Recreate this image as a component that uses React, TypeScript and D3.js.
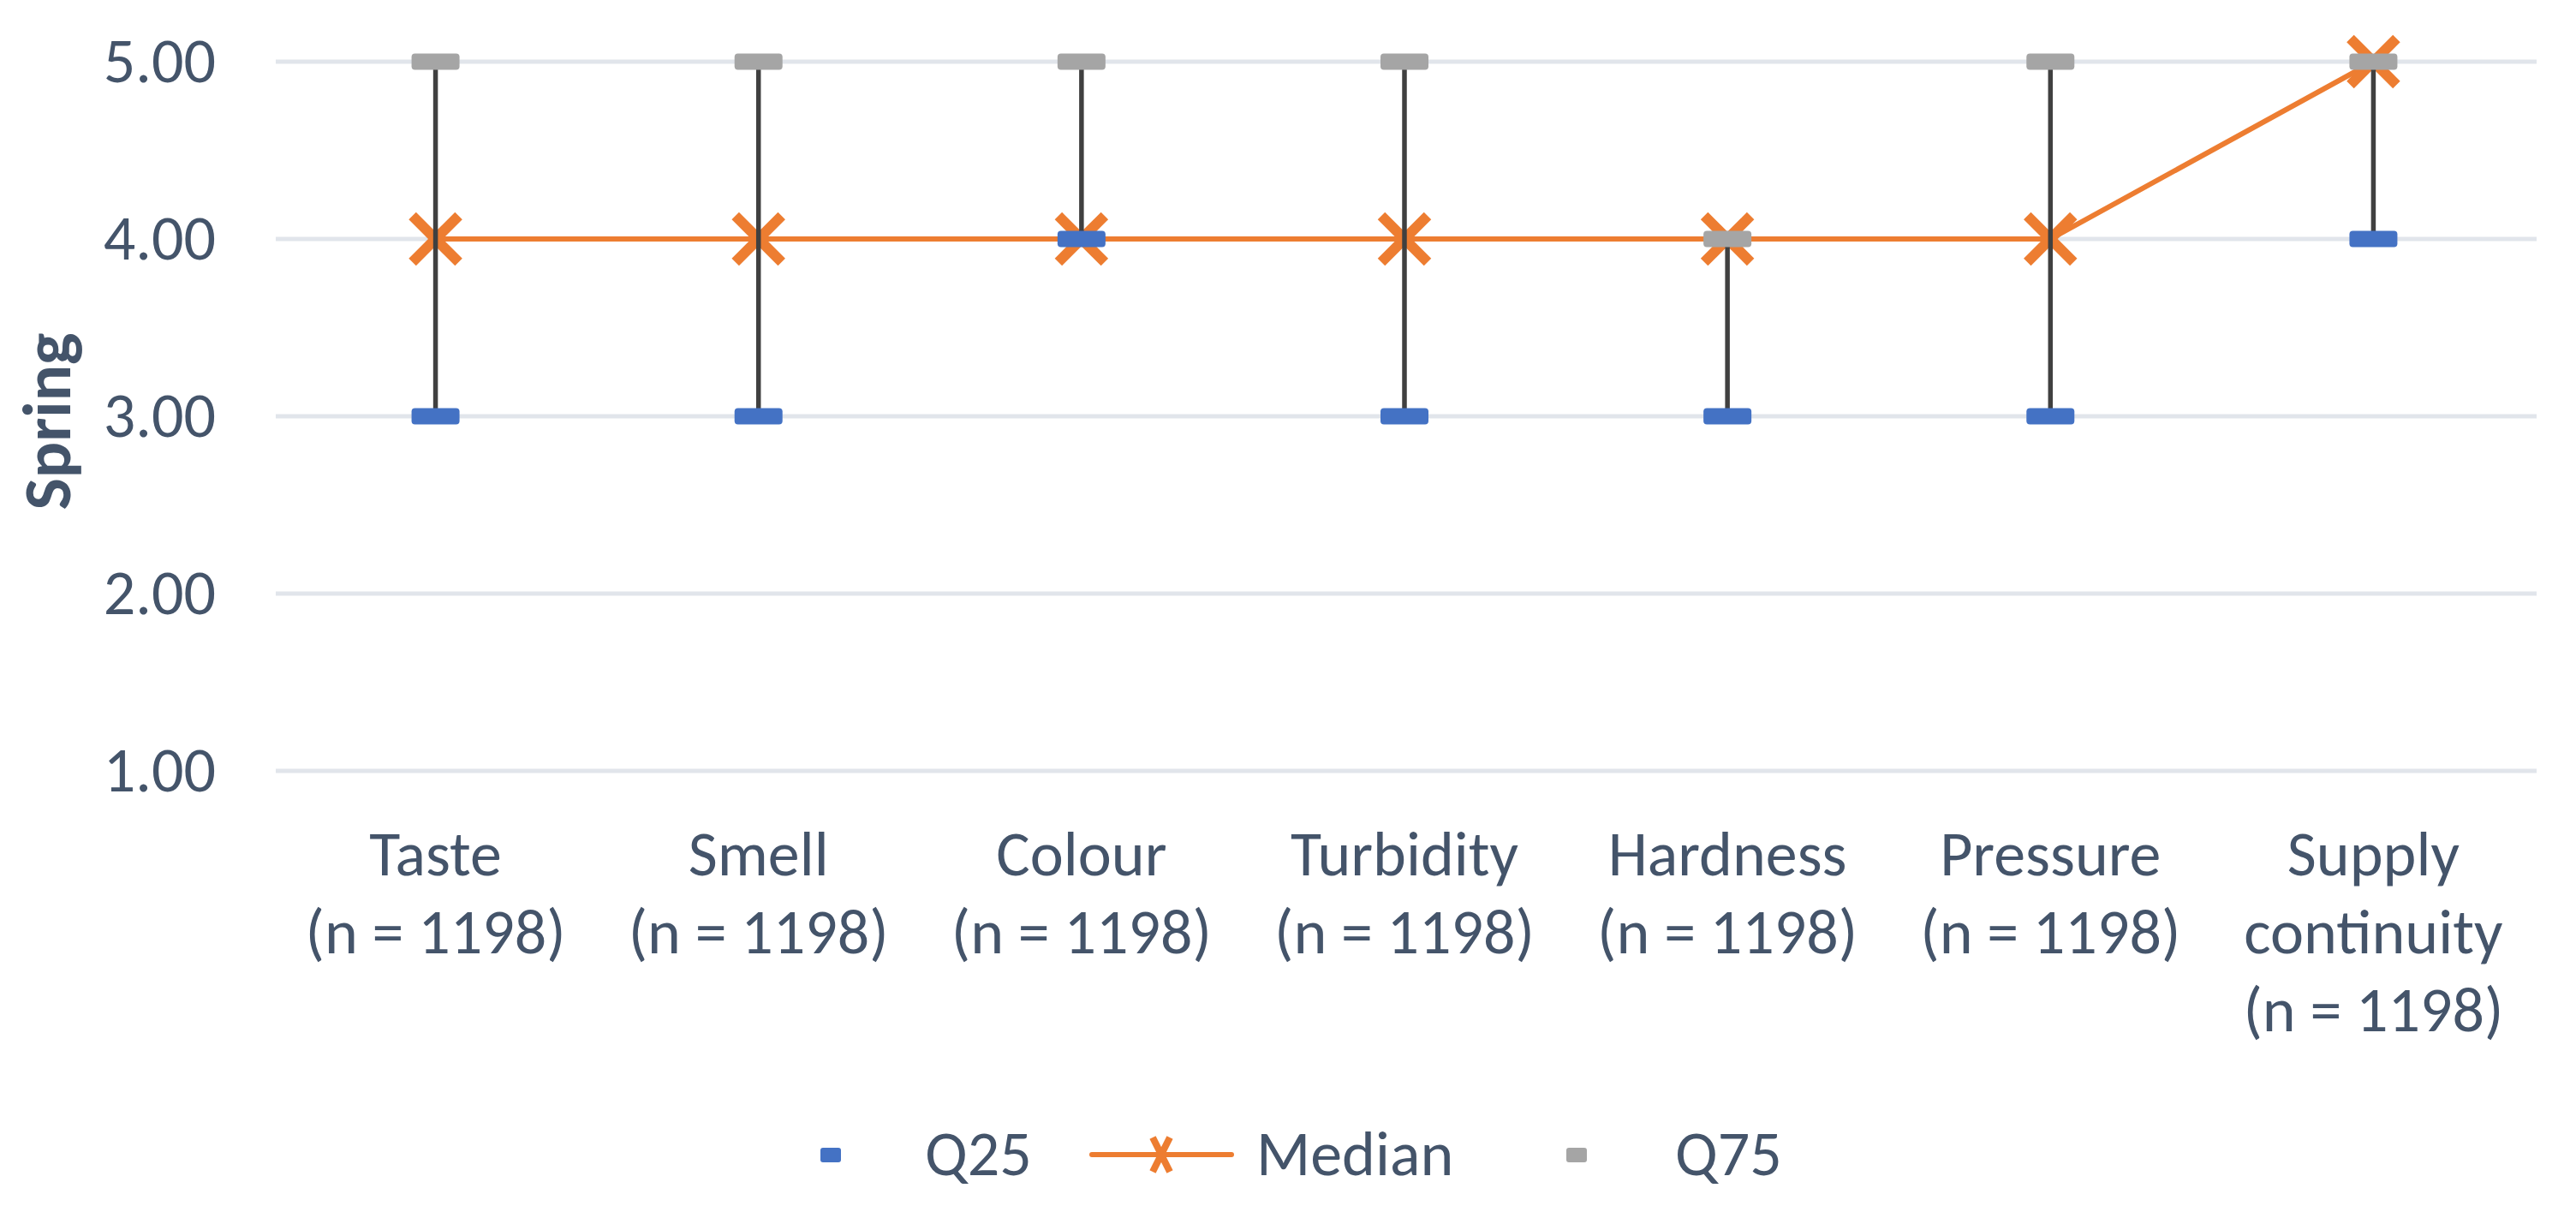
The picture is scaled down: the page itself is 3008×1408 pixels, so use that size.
import React from "react";
import * as d3 from "d3";

const categories: string[][] = [
  ["Taste", "(n = 1198)"],
  ["Smell", "(n = 1198)"],
  ["Colour", "(n = 1198)"],
  ["Turbidity", "(n = 1198)"],
  ["Hardness", "(n = 1198)"],
  ["Pressure", "(n = 1198)"],
  ["Supply", "continuity", "(n = 1198)"],
];
const q25: number[] = [3, 3, 4, 3, 3, 3, 4];
const median: number[] = [4, 4, 4, 4, 4, 4, 5];
const q75: number[] = [5, 5, 5, 5, 4, 5, 5];
const yTicks: number[] = [1, 2, 3, 4, 5];
const legendItems: string[] = ["Q25", "Median", "Q75"];

const W = 3008;
const H = 1408;
const FONT = "Carlito, Calibri, 'Open Sans', sans-serif";
const TEXT = "#44546A";
const GRID = "#E1E5EB";
const BLUE = "#4472C4";
const ORANGE = "#ED7D31";
const GRAY = "#A5A5A5";
const DARK = "#404040";

export default function App() {
  const x = d3
    .scaleBand<number>()
    .domain(d3.range(categories.length))
    .range([320, 2960]);
  const y = d3.scaleLinear().domain([1, 5]).range([900, 72]);
  const cx = (i: number) => (x(i) as number) + x.bandwidth() / 2;

  const line = d3
    .line<number>()
    .x((_, i) => cx(i))
    .y((d) => y(d));

  const dashW = 56;
  const dashH = 19;
  const xs = 27;

  const xMark = (px: number, py: number, key: string, s = xs, sy = xs, sw = 12) => (
    <g key={key}>
      <line x1={px - s} y1={py - sy} x2={px + s} y2={py + sy} stroke={ORANGE} strokeWidth={sw} />
      <line x1={px - s} y1={py + sy} x2={px + s} y2={py - sy} stroke={ORANGE} strokeWidth={sw} />
    </g>
  );

  const legendY = 1348;
  const FS = 74;

  return (
    <svg
      width={W}
      height={H}
      style={{ position: "absolute", left: 0, top: 0, background: "#fff" }}
      fontFamily={FONT}
    >
      <rect width={W} height={H} fill="#fff" />
      {/* gridlines */}
      {yTicks.map((t) => (
        <line key={"g" + t} x1={322} x2={2962} y1={y(t)} y2={y(t)} stroke={GRID} strokeWidth={5} />
      ))}
      {/* y tick labels */}
      {yTicks.map((t) => (
        <text key={"t" + t} x={252} y={y(t) + 24} textAnchor="end" fontSize={FS} fill={TEXT}>
          {d3.format(".2f")(t)}
        </text>
      ))}
      {/* y title */}
      <text
        transform={`translate(82,${(y(1) + y(5)) / 2 + 6}) rotate(-90)`}
        textAnchor="middle"
        fontSize={79}
        fontWeight="bold"
        fill={TEXT}
      >
        Spring
      </text>
      {/* median line */}
      <path d={line(median) || ""} fill="none" stroke={ORANGE} strokeWidth={6} />
      {median.map((m, i) => xMark(cx(i), y(m), "m" + i))}
      {/* high-low lines */}
      {categories.map((_, i) => {
        const lo = Math.min(q25[i], median[i], q75[i]);
        const hi = Math.max(q25[i], median[i], q75[i]);
        return (
          <line key={"hl" + i} x1={cx(i)} x2={cx(i)} y1={y(lo)} y2={y(hi)} stroke={DARK} strokeWidth={5.5} />
        );
      })}
      {/* Q25 markers */}
      {q25.map((v, i) => (
        <rect
          key={"q25" + i}
          x={cx(i) - dashW / 2}
          y={y(v) - dashH / 2}
          width={dashW}
          height={dashH}
          rx={4}
          fill={BLUE}
        />
      ))}
      {/* Q75 markers */}
      {q75.map((v, i) => (
        <rect
          key={"q75" + i}
          x={cx(i) - dashW / 2}
          y={y(v) - dashH / 2}
          width={dashW}
          height={dashH}
          rx={4}
          fill={GRAY}
        />
      ))}
      {/* category labels */}
      {categories.map((lines, i) => (
        <text key={"c" + i} textAnchor="middle" fontSize={FS} fill={TEXT}>
          {lines.map((l, j) => (
            <tspan key={j} x={cx(i)} y={1022 + j * 91}>
              {l}
            </tspan>
          ))}
        </text>
      ))}
      {/* legend */}
      <g>
        <rect x={958} y={legendY - 8} width={24} height={17} rx={3} fill={BLUE} />
        <text x={1080} y={legendY + 24} fontSize={FS} fill={TEXT}>
          {legendItems[0]}
        </text>
        <line x1={1275} x2={1438} y1={legendY} y2={legendY} stroke={ORANGE} strokeWidth={6} strokeLinecap="round" />
        {xMark(1356, legendY, "lx", 10, 20, 8)}
        <text x={1467} y={legendY + 24} fontSize={FS} fill={TEXT}>
          {legendItems[1]}
        </text>
        <rect x={1829} y={legendY - 8} width={24} height={17} rx={3} fill={GRAY} />
        <text x={1956} y={legendY + 24} fontSize={FS} fill={TEXT}>
          {legendItems[2]}
        </text>
      </g>
    </svg>
  );
}
